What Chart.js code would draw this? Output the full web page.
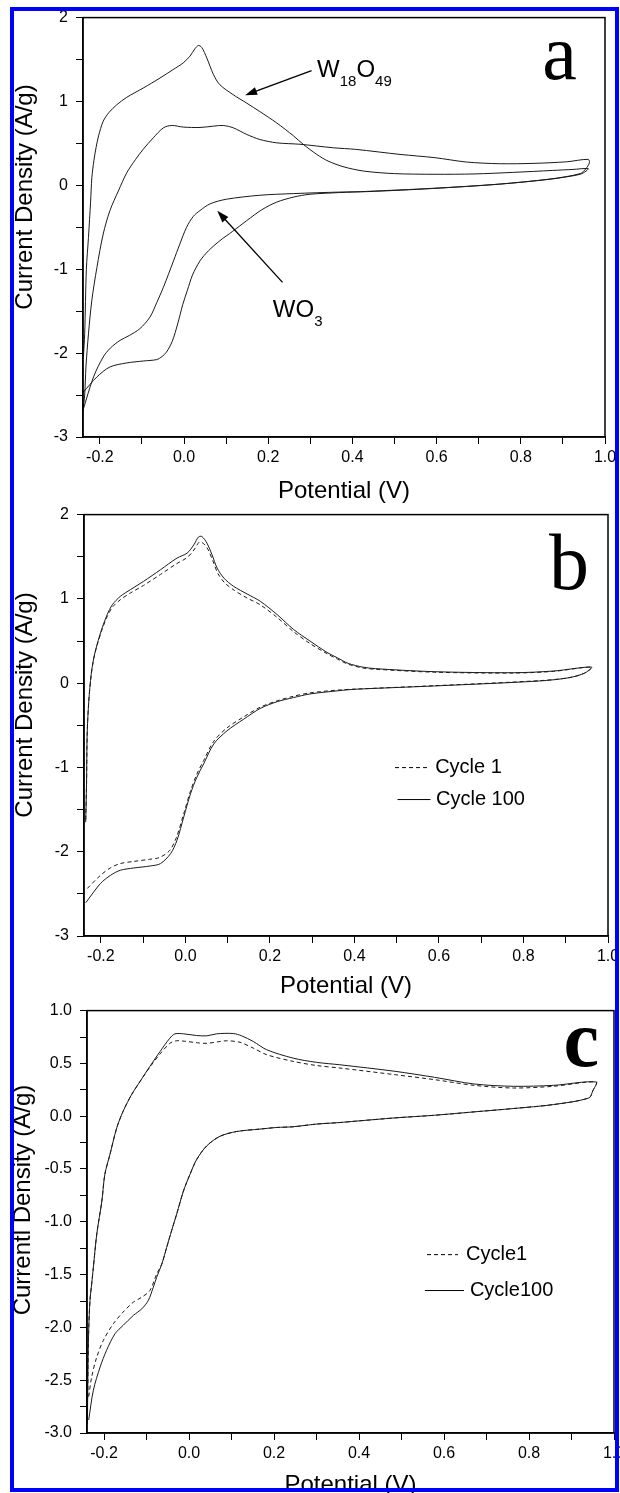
<!DOCTYPE html>
<html>
<head>
<meta charset="utf-8">
<script src="https://cdn.jsdelivr.net/npm/chart.js@4.4.1/dist/chart.umd.min.js"></script>
<style>
  html, body { margin: 0; padding: 0; background: #fff; overflow: hidden; width: 620px; height: 1493px; }
  .panel { position: absolute; left: 0; }
  #frame { position: absolute; left: 10px; top: 7px; width: 609px; height: 1485px;
           border: 4px solid #0000ff; box-sizing: border-box; pointer-events: none; z-index: 5; }
</style>
</head>
<body>
<div class="panel" style="top:0px"><canvas id="chartA" width="640" height="506"></canvas></div>
<div class="panel" style="top:497px"><canvas id="chartB" width="640" height="504"></canvas></div>
<div class="panel" style="top:993px"><canvas id="chartC" width="640" height="507"></canvas></div>
<div id="frame"></div>
<script>
// ---- data (potential in V, current density in A/g) ----
// panel a, W18O49
const aW18O49_V = [-0.239,-0.236,-0.232,-0.227,-0.222,-0.219,-0.214,-0.209,-0.203,-0.192,-0.178,-0.16,-0.136,-0.097,-0.057,-0.026,-0.002,0.014,0.026,0.034,0.042,0.054,0.07,0.085,0.117,0.149,0.18,0.22,0.26,0.283,0.315,0.342,0.38,0.427,0.5,0.596,0.689,0.783,0.876,0.924,0.96,
  0.955,0.941,0.9,0.869,0.75,0.592,0.434,0.37,0.299,0.26,0.22,0.185,0.149,0.115,0.085,0.058,0.038,0.02,0.008,-0.003,-0.015,-0.028,-0.042,-0.052,-0.065,-0.097,-0.136,-0.176,-0.207,-0.24];
const aW18O49_J = [-2.05,-1.77,-1.0,-0.62,-0.2,0.09,0.3,0.45,0.59,0.765,0.87,0.96,1.05,1.16,1.28,1.38,1.46,1.54,1.63,1.667,1.645,1.52,1.32,1.2,1.08,0.98,0.88,0.745,0.59,0.49,0.37,0.29,0.22,0.17,0.14,0.132,0.136,0.155,0.178,0.19,0.2,
  0.17,0.132,0.095,0.073,0.015,-0.035,-0.072,-0.086,-0.106,-0.14,-0.2,-0.29,-0.42,-0.55,-0.66,-0.78,-0.9,-1.07,-1.25,-1.42,-1.65,-1.86,-1.99,-2.04,-2.077,-2.094,-2.117,-2.165,-2.284,-2.47];
// panel a, WO3
const aWO3_V = [-0.24,-0.236,-0.233,-0.227,-0.219,-0.207,-0.192,-0.176,-0.156,-0.136,-0.115,-0.097,-0.073,-0.049,-0.029,-0.002,0.038,0.07,0.093,0.117,0.149,0.18,0.22,0.275,0.355,0.408,0.513,0.596,0.671,0.75,0.829,0.909,0.96,
  0.963,0.955,0.941,0.869,0.75,0.592,0.434,0.37,0.26,0.18,0.101,0.062,0.038,0.022,0.006,-0.01,-0.025,-0.037,-0.049,-0.065,-0.081,-0.105,-0.13,-0.152,-0.175,-0.192,-0.215,-0.24];
const aWO3_J = [-2.68,-2.5,-2.165,-1.77,-1.37,-0.98,-0.58,-0.3,-0.067,0.15,0.31,0.43,0.567,0.686,0.714,0.695,0.69,0.706,0.714,0.686,0.607,0.547,0.507,0.49,0.448,0.429,0.369,0.33,0.278,0.258,0.262,0.281,0.31,
  0.27,0.2,0.14,0.075,0.015,-0.037,-0.075,-0.08,-0.098,-0.118,-0.165,-0.22,-0.3,-0.37,-0.5,-0.7,-0.9,-1.06,-1.215,-1.4,-1.571,-1.709,-1.79,-1.848,-1.94,-2.046,-2.284,-2.68];
// panel b, cycle 1 and cycle 100
const bCycle1_V = [-0.236,-0.234,-0.2325,-0.229,-0.223,-0.217,-0.209,-0.197,-0.185,-0.173,-0.154,-0.13,-0.099,-0.059,-0.02,0.004,0.02,0.033,0.042,0.053,0.065,0.077,0.093,0.116,0.146,0.177,0.217,0.256,0.295,0.335,0.36,0.385,0.42,0.45,0.59,0.777,0.871,0.961,
  0.945,0.908,0.838,0.59,0.403,0.366,0.295,0.256,0.217,0.177,0.138,0.0985,0.067,0.043,0.027,0.012,-0.004,-0.022,-0.038,-0.062,-0.085,-0.122,-0.154,-0.177,-0.201,-0.236];
const bCycle1_J = [-1.62,-1.2,-0.62,-0.23,0.09,0.29,0.45,0.64,0.79,0.9,0.99,1.07,1.16,1.29,1.42,1.49,1.58,1.675,1.66,1.59,1.45,1.3,1.19,1.1,1.01,0.93,0.78,0.61,0.47,0.35,0.285,0.225,0.18,0.165,0.13,0.12,0.14,0.19,
  0.12,0.065,0.03,-0.03,-0.07,-0.08,-0.115,-0.155,-0.21,-0.285,-0.4,-0.53,-0.69,-0.92,-1.08,-1.28,-1.55,-1.84,-1.99,-2.07,-2.09,-2.115,-2.14,-2.19,-2.28,-2.455];
const bCycle100_V = [-0.236,-0.234,-0.2325,-0.2286,-0.223,-0.2168,-0.209,-0.197,-0.185,-0.173,-0.154,-0.13,-0.099,-0.059,-0.02,0.004,0.02,0.031,0.039,0.051,0.063,0.075,0.091,0.114,0.146,0.177,0.217,0.256,0.295,0.335,0.36,0.385,0.42,0.45,0.59,0.777,0.871,0.961,
  0.945,0.908,0.838,0.59,0.403,0.366,0.295,0.256,0.217,0.177,0.138,0.0985,0.067,0.043,0.027,0.012,-0.004,-0.02,-0.035,-0.059,-0.083,-0.122,-0.154,-0.177,-0.201,-0.236];
const bCycle100_J = [-1.65,-1.2,-0.6,-0.21,0.105,0.3,0.46,0.656,0.814,0.93,1.03,1.11,1.208,1.346,1.484,1.543,1.642,1.735,1.74,1.661,1.523,1.366,1.247,1.149,1.058,0.972,0.814,0.637,0.499,0.365,0.3,0.235,0.19,0.172,0.136,0.124,0.144,0.191,
  0.12,0.065,0.026,-0.033,-0.072,-0.088,-0.128,-0.171,-0.22,-0.3,-0.427,-0.565,-0.722,-0.959,-1.117,-1.313,-1.589,-1.865,-2.022,-2.141,-2.169,-2.193,-2.22,-2.279,-2.377,-2.606];
// panel c, cycle 1 and cycle 100
const cCycle1_V = [-0.238,-0.2376,-0.236,-0.233,-0.229,-0.225,-0.217,-0.205,-0.198,-0.186,-0.17,-0.155,-0.135,-0.115,-0.092,-0.068,-0.045,-0.03,-0.01,0.02,0.042,0.07,0.089,0.12,0.151,0.183,0.245,0.3,0.355,0.485,0.578,0.671,0.764,0.857,0.958,
  0.95,0.941,0.857,0.764,0.671,0.578,0.485,0.392,0.355,0.299,0.245,0.206,0.167,0.112,0.073,0.042,0.018,0.0024,-0.013,-0.029,-0.041,-0.0525,-0.064,-0.076,-0.092,-0.111,-0.131,-0.155,-0.178,-0.2016,-0.217,-0.229,-0.236];
const cCycle1_J = [-2.66,-2.37,-2.03,-1.745,-1.588,-1.431,-1.116,-0.802,-0.55,-0.362,-0.11,0.047,0.205,0.33,0.465,0.59,0.69,0.714,0.71,0.695,0.69,0.706,0.714,0.7,0.645,0.582,0.519,0.48,0.456,0.393,0.346,0.292,0.267,0.283,0.324,
  0.24,0.173,0.11,0.073,0.041,0.009,-0.016,-0.047,-0.06,-0.075,-0.1,-0.107,-0.122,-0.145,-0.19,-0.28,-0.41,-0.55,-0.708,-0.927,-1.085,-1.242,-1.4,-1.494,-1.651,-1.714,-1.761,-1.855,-1.965,-2.123,-2.28,-2.469,-2.657];
const cCycle100_V = [-0.239,-0.2376,-0.236,-0.233,-0.229,-0.225,-0.217,-0.205,-0.198,-0.186,-0.17,-0.155,-0.135,-0.115,-0.092,-0.068,-0.045,-0.033,-0.013,0.018,0.042,0.065,0.104,0.124,0.151,0.183,0.245,0.3,0.355,0.485,0.578,0.671,0.764,0.857,0.958,
  0.95,0.941,0.857,0.764,0.671,0.578,0.485,0.392,0.355,0.299,0.245,0.206,0.167,0.112,0.073,0.042,0.018,0.0024,-0.013,-0.029,-0.041,-0.0525,-0.064,-0.076,-0.084,-0.0958,-0.111,-0.131,-0.155,-0.174,-0.194,-0.209,-0.225,-0.236];
const cCycle100_J = [-2.91,-2.37,-2.03,-1.745,-1.588,-1.431,-1.116,-0.802,-0.55,-0.362,-0.11,0.047,0.205,0.33,0.472,0.613,0.739,0.78,0.78,0.764,0.761,0.78,0.783,0.761,0.708,0.629,0.55,0.51,0.487,0.425,0.368,0.305,0.283,0.292,0.324,
  0.24,0.173,0.11,0.073,0.041,0.009,-0.016,-0.047,-0.06,-0.075,-0.1,-0.107,-0.122,-0.145,-0.19,-0.28,-0.41,-0.55,-0.708,-0.927,-1.085,-1.242,-1.4,-1.525,-1.62,-1.745,-1.824,-1.887,-1.981,-2.059,-2.217,-2.374,-2.594,-2.877];

// ---- ticks ----
const potentialTicks  = [-0.2,-0.1,0,0.1,0.2,0.3,0.4,0.5,0.6,0.7,0.8,0.9,1.0];
const potentialLabels = ['-0.2','','0.0','','0.2','','0.4','','0.6','','0.8','','1.0'];
const currentTicksAB  = [-3,-2.5,-2,-1.5,-1,-0.5,0,0.5,1,1.5,2];
const currentLabelsAB = ['-3','','-2','','-1','','0','','1','','2'];
const currentTicksC   = [-3,-2.75,-2.5,-2.25,-2,-1.75,-1.5,-1.25,-1,-0.75,-0.5,-0.25,0,0.25,0.5,0.75,1];
const currentLabelsC  = ['-3.0','','-2.5','','-2.0','','-1.5','','-1.0','','-0.5','','0.0','','0.5','','1.0'];

const FONT = '"Liberation Sans", Arial, sans-serif';
const zip = (xs, ys) => xs.map((x, i) => ({ x: x, y: ys[i] }));

function drawParts(ctx, parts, x, y) {
  // parts: [text, isSubscript]
  parts.forEach(([t, sub]) => {
    ctx.font = (sub ? '15px ' : '24px ') + FONT;
    ctx.fillText(t, x, y + (sub ? 9 : 0));
    x += ctx.measureText(t).width;
  });
}

function drawArrow(ctx, x1, y1, x2, y2) {
  const a = Math.atan2(y2 - y1, x2 - x1), len = 12, w = 4;
  ctx.beginPath();
  ctx.moveTo(x1, y1);
  ctx.lineTo(x2 - Math.cos(a) * len * 0.8, y2 - Math.sin(a) * len * 0.8);
  ctx.stroke();
  ctx.beginPath();
  ctx.moveTo(x2, y2);
  ctx.lineTo(x2 - Math.cos(a) * len - Math.sin(a) * w, y2 - Math.sin(a) * len + Math.cos(a) * w);
  ctx.lineTo(x2 - Math.cos(a) * len + Math.sin(a) * w, y2 - Math.sin(a) * len - Math.cos(a) * w);
  ctx.closePath();
  ctx.fill();
}

// frame, y title, panel letter, notes and legend
const decor = {
  id: 'decor',
  afterDraw(chart, args, o) {
    const { ctx, chartArea: ca } = chart;
    const px = v => chart.scales.x.getPixelForValue(v);
    const py = v => chart.scales.y.getPixelForValue(v);
    ctx.save();
    ctx.strokeStyle = '#000';
    ctx.fillStyle = '#000';
    ctx.lineWidth = 1.5;
    ctx.strokeRect(ca.left, ca.top, ca.right - ca.left, ca.bottom - ca.top);

    ctx.save();
    ctx.translate(o.yTitle.x, o.yTitle.y);
    ctx.rotate(-Math.PI / 2);
    ctx.font = '24px ' + FONT;
    ctx.textAlign = 'center';
    ctx.textBaseline = 'middle';
    ctx.fillText(o.yTitle.text, 0, 0);
    ctx.restore();

    ctx.font = o.letter.font;
    ctx.textAlign = 'right';
    ctx.textBaseline = 'alphabetic';
    ctx.fillText(o.letter.text, px(o.letter.x), py(o.letter.y));

    ctx.textAlign = 'left';
    ctx.lineWidth = 1.3;
    (o.notes || []).forEach(n => {
      drawParts(ctx, n.parts, px(n.x), py(n.y));
      drawArrow(ctx, px(n.from[0]), py(n.from[1]), px(n.to[0]), py(n.to[1]));
    });

    ctx.textBaseline = 'middle';
    ctx.lineWidth = 1;
    (o.legend || []).forEach(r => {
      ctx.setLineDash(r.dash ? [4, 3] : []);
      ctx.beginPath();
      ctx.moveTo(px(r.x0), py(r.y));
      ctx.lineTo(px(r.x1), py(r.y));
      ctx.stroke();
      ctx.setLineDash([]);
      ctx.font = '20px ' + FONT;
      ctx.fillText(r.text, px(r.tx), py(r.y));
    });
    ctx.restore();
  }
};

function makeChart(id, cfg) {
  const datasets = cfg.series.map(s => ({
    data: zip(s.v, s.j),
    showLine: true,
    borderColor: '#1a1a1a',
    borderWidth: 1,
    borderDash: s.dash ? [4, 3] : [],
    pointRadius: 0,
    tension: 0.3,
    fill: false
  }));
  const yTicks = cfg.yTicks, yLabels = cfg.yLabels;
  return new Chart(document.getElementById(id).getContext('2d'), {
    type: 'scatter',
    data: { datasets: datasets },
    options: {
      responsive: false,
      animation: false,
      layout: { padding: { left: 0, top: 16, right: cfg.padRight, bottom: 0 } },
      plugins: { legend: { display: false }, tooltip: { enabled: false }, decor: cfg.decor },
      scales: {
        x: {
          type: 'linear', min: -0.24, max: 1.0,
          afterBuildTicks: s => { s.ticks = potentialTicks.map(v => ({ value: v })); },
          afterFit: s => { s.height = cfg.xHeight; },
          ticks: { autoSkip: false, maxRotation: 0, padding: 4, color: '#000',
                   font: { family: FONT, size: 16 }, callback: (v, i) => potentialLabels[i] },
          grid: { drawOnChartArea: false, drawTicks: true, tickLength: 7, tickColor: '#000', tickWidth: 1 },
          border: { display: true, color: '#000', width: 1.5 },
          title: { display: true, text: 'Potential (V)', color: '#000',
                   font: { family: FONT, size: 24 }, padding: 0 }
        },
        y: {
          type: 'linear', min: cfg.yMin, max: cfg.yMax,
          afterBuildTicks: s => { s.ticks = yTicks.map(v => ({ value: v })); },
          afterFit: s => { s.width = cfg.yWidth; },
          ticks: { autoSkip: false, padding: 8, color: '#000',
                   font: { family: FONT, size: 16 }, callback: (v, i) => yLabels[i] },
          grid: { drawOnChartArea: false, drawTicks: true, tickLength: 7, tickColor: '#000', tickWidth: 1 },
          border: { display: true, color: '#000', width: 1.5 }
        }
      }
    },
    plugins: [decor]
  });
}

makeChart('chartA', {
  series: [{ v: aW18O49_V, j: aW18O49_J }, { v: aWO3_V, j: aWO3_J }],
  yMin: -3, yMax: 2, yTicks: currentTicksAB, yLabels: currentLabelsAB,
  yWidth: 83, xHeight: 69, padRight: 35,
  decor: {
    yTitle: { text: 'Current Density (A/g)', x: 25, y: 197 },
    letter: { text: 'a', x: 0.933, y: 1.264, font: '78px "Liberation Serif", "Times New Roman", serif' },
    notes: [
      { parts: [['W', 0], ['18', 1], ['O', 0], ['49', 1]], x: 0.316, y: 1.287, from: [0.303, 1.367], to: [0.145, 1.074] },
      { parts: [['WO', 0], ['3', 1]], x: 0.211, y: -1.575, from: [0.234, -1.156], to: [0.079, -0.304] }
    ]
  }
});

makeChart('chartB', {
  series: [{ v: bCycle1_V, j: bCycle1_J, dash: true }, { v: bCycle100_V, j: bCycle100_J }],
  yMin: -3, yMax: 2, yTicks: currentTicksAB, yLabels: currentLabelsAB,
  yWidth: 84, xHeight: 65, padRight: 32,
  decor: {
    yTitle: { text: 'Current Density (A/g)', x: 25, y: 208 },
    letter: { text: 'b', x: 0.955, y: 1.113, font: '80px "Liberation Serif", "Times New Roman", serif' },
    legend: [
      { dash: true, x0: 0.496, x1: 0.577, y: -1.002, tx: 0.591, text: 'Cycle 1' },
      { dash: false, x0: 0.502, x1: 0.58, y: -1.381, tx: 0.593, text: 'Cycle 100' }
    ]
  }
});

makeChart('chartC', {
  series: [{ v: cCycle1_V, j: cCycle1_J, dash: true }, { v: cCycle100_V, j: cCycle100_J }],
  yMin: -3, yMax: 1, yTicks: currentTicksC, yLabels: currentLabelsC,
  yWidth: 87, xHeight: 67, padRight: 26,
  decor: {
    yTitle: { text: 'Currentl Density (A/g)', x: 23, y: 207 },
    letter: { text: 'c', x: 0.965, y: 0.472, font: 'bold 80px "Liberation Serif", "Times New Roman", serif' },
    legend: [
      { dash: true, x0: 0.56, x1: 0.633, y: -1.311, tx: 0.652, text: 'Cycle1' },
      { dash: false, x0: 0.555, x1: 0.647, y: -1.651, tx: 0.661, text: 'Cycle100' }
    ]
  }
});
</script>
</body>
</html>
